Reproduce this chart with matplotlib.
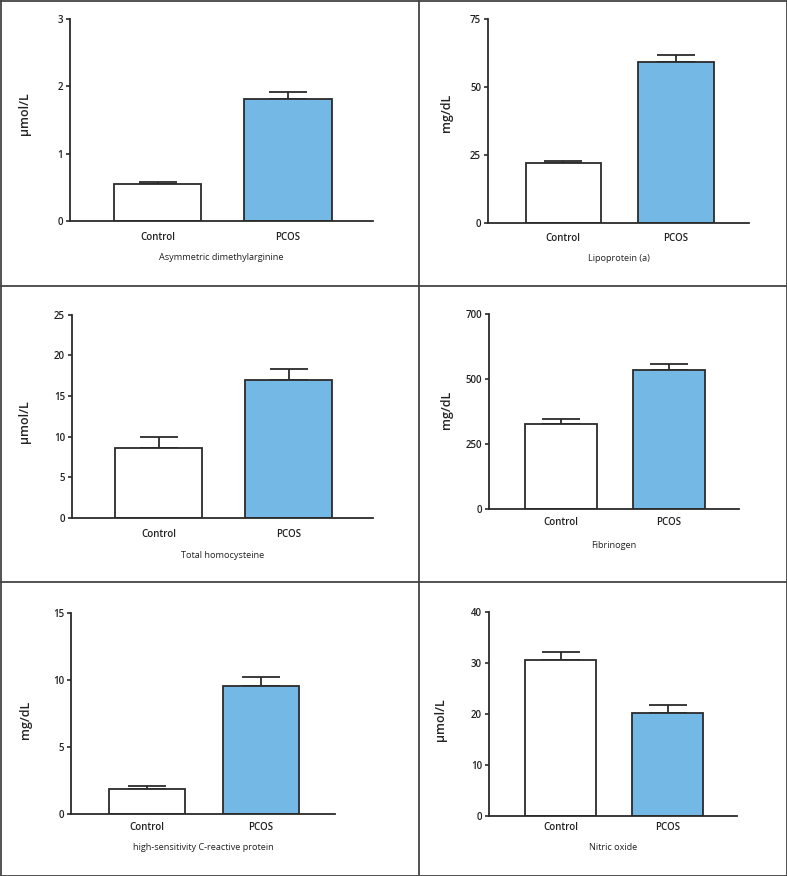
import matplotlib
matplotlib.use("Agg")
import matplotlib.pyplot as plt
from matplotlib.lines import Line2D

plt.rcParams['font.family'] = ['Open Sans', 'DejaVu Sans']

categories = ["Control", "PCOS"]

titles = ["Asymmetric dimethylarginine", "Lipoprotein (a)", "Total homocysteine",
          "Fibrinogen", "high-sensitivity C-reactive protein", "Nitric oxide"]
units = ["\u00b5mol/L", "mg/dL", "\u00b5mol/L", "mg/dL", "mg/dL", "\u00b5mol/L"]

adma_mean = [0.545, 1.81]
adma_err = [0.035, 0.11]
lpa_mean = [22.0, 59.3]
lpa_err = [0.7, 2.7]
hcy_mean = [8.65, 16.97]
hcy_err = [1.3, 1.32]
fib_mean = [327, 534]
fib_err = [18, 22]
crp_mean = [1.89, 9.51]
crp_err = [0.2, 0.68]
no_mean = [30.6, 20.2]
no_err = [1.7, 1.6]

means = [adma_mean, lpa_mean, hcy_mean, fib_mean, crp_mean, no_mean]
errs = [adma_err, lpa_err, hcy_err, fib_err, crp_err, no_err]

yticks = [[0, 1, 2, 3], [0, 25, 50, 75], [0, 5, 10, 15, 20, 25],
          [0, 250, 500, 750], [0, 5, 10, 15], [0, 10, 20, 30, 40]]
ytick_labels = [["0", "1", "2", "3"], ["0", "25", "50", "75"],
                ["0", "5", "10", "15", "20", "25"], ["0", "250", "500", "700"],
                ["0", "5", "10", "15"], ["0", "10", "20", "30", "40"]]

W, H = 787, 876
fig = plt.figure(figsize=(W / 100, H / 100), dpi=100)

# axes boxes in pixels: left, right, bottom(y0), top(ymax)
boxes = [(70, 373, 221, 19), (488, 749, 222.7, 19.3),
         (72, 373, 518, 314.7), (489, 739, 509, 314),
         (71, 335, 814, 612.7), (489, 737, 816, 612.3)]
ylabel_x = [25, 447, 25, 447, 25, 441]
ylabel_y = [114, 113, 422, 410, 720, 720]
cat_off = [17, 17, 17.5, 14, 14, 12]
xl_off = [36, 36, 37, 37, 34, 32]

blue = "#74b8e6"
edge = "#2b2b2b"

for i in range(6):
    l, r, b, t = boxes[i]
    wpx, hpx = r - l, b - t
    ax = fig.add_axes([l / W, 1 - b / H, wpx / W, hpx / H])
    x = [0, 1]
    ax.bar(x, means[i], width=0.67, color=["white", blue], edgecolor=edge,
           linewidth=1.3, zorder=2)
    ax.errorbar(x, means[i], yerr=[[0, 0], errs[i]], fmt="none", ecolor=edge,
                elinewidth=1.3, capsize=14, capthick=1.3, zorder=1)
    ax.set_xlim(-0.67, 1.65)
    ax.set_ylim(yticks[i][0], yticks[i][-1])
    ax.set_yticks(yticks[i])
    ax.set_yticklabels(ytick_labels[i])
    ax.set_xticks(x)
    ax.set_xticklabels(categories)
    for s in ["top", "right"]:
        ax.spines[s].set_visible(False)
    for s in ["left", "bottom"]:
        ax.spines[s].set_linewidth(1.3)
        ax.spines[s].set_color(edge)
        ax.spines[s].set_zorder(3)
    ax.tick_params(axis="y", length=3, width=1.2, color=edge, labelsize=7,
                   pad=2, labelcolor="#222")
    ax.tick_params(axis="x", length=0, labelsize=7, labelcolor="#222",
                   pad=cat_off[i] * 0.72 - 4.5)
    for lab in ax.get_yticklabels() + ax.get_xticklabels():
        lab.set_fontweight("semibold")
    ax.set_ylabel(units[i], fontsize=9, fontweight="semibold", color="#222")
    ax.yaxis.set_label_coords((ylabel_x[i] - l) / wpx, (b - ylabel_y[i]) / hpx)
    ax.yaxis.label.set_va("center")
    ax.set_xlabel(titles[i], fontsize=6.6, color="#222")
    ax.xaxis.set_label_coords(0.5, -xl_off[i] / hpx)
    ax.xaxis.label.set_va("center")
    ax.set_facecolor("none")

# panel borders
lc = "#444444"
lw = 1.3
def hline(y):
    fig.add_artist(Line2D([0, 1], [1 - y / H, 1 - y / H], color=lc, lw=lw,
                          transform=fig.transFigure))
def vline(xp, y0=0, y1=H):
    fig.add_artist(Line2D([xp / W, xp / W], [1 - y0 / H, 1 - y1 / H], color=lc,
                          lw=lw, transform=fig.transFigure))

hline(0.5)
hline(286)
hline(582)
hline(875.5)
vline(0.5)
vline(419)
vline(786.5)

fig.savefig("out.png", dpi=100)
